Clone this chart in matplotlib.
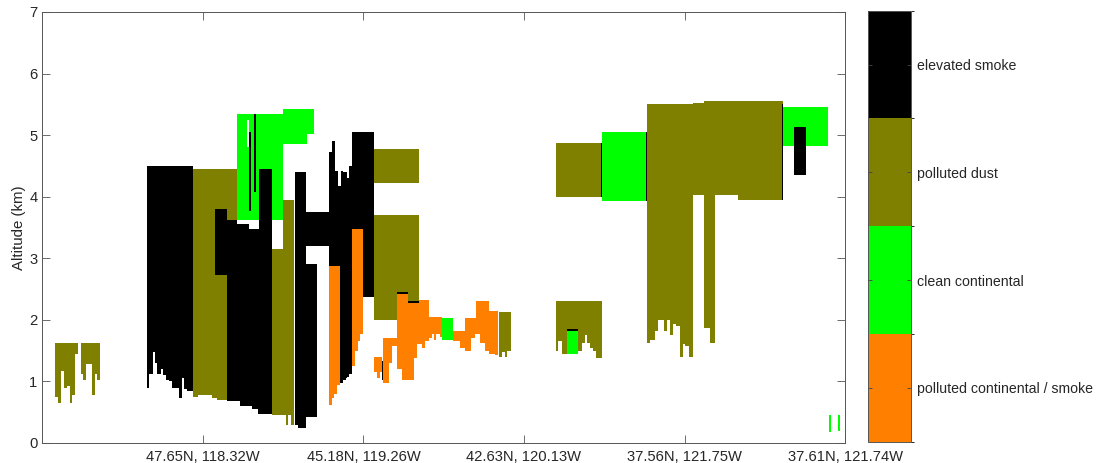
import numpy as np
import matplotlib
matplotlib.use('Agg')
import matplotlib.pyplot as plt
from matplotlib.colors import ListedColormap, BoundaryNorm

plt.rcParams['font.family'] = ['Liberation Sans', 'DejaVu Sans']

# profile index along the track, altitude in km
N_PROFILES = 802
TICK_LABELS = ['47.65N, 118.32W', '45.18N, 119.26W', '42.63N, 120.13W',
               '37.56N, 121.75W', '37.61N, 121.74W']
TYPE_NAMES = ['polluted continental / smoke', 'clean continental',
              'polluted dust', 'elevated smoke']
TYPE_COLORS = ['#ff8000', '#00ff00', '#808000', '#000000']

# layers: (first profile, last profile, base km, top km)
DUST = [
    (13, 16, 0.75, 1.62), (16, 19, 0.65, 1.62), (19, 22, 1.18, 1.62), (22, 25, 0.91, 1.62),
    (25, 28, 0.93, 1.62), (28, 30, 0.65, 1.62), (30, 33, 0.77, 1.62), (33, 36, 1.44, 1.62),
    (39, 41, 1.12, 1.62), (41, 44, 1.03, 1.62), (44, 50, 1.27, 1.62), (50, 53, 0.77, 1.62),
    (53, 55, 1.12, 1.62), (55, 58, 1.03, 1.62),
    (150, 155, 0.75, 4.44), (155, 169, 0.77, 4.44), (169, 174, 0.72, 4.44), (174, 184, 0.70, 4.44),
    (184, 194, 3.62, 4.44),
    (229, 240, 0.45, 3.16), (240, 243, 0.45, 3.96), (243, 245, 0.30, 3.96), (245, 248, 0.45, 3.96),
    (248, 251, 0.29, 3.96),
    (331, 376, 4.23, 4.77), (331, 354, 2.00, 3.71), (354, 365, 2.46, 3.71), (365, 376, 2.31, 3.71),
    (456, 459, 1.41, 2.13), (459, 462, 1.48, 2.13), (462, 464, 1.40, 2.13), (464, 468, 1.51, 2.13),
    (513, 559, 3.99, 4.87),
    (513, 515, 1.50, 2.31), (515, 519, 1.64, 2.31), (519, 524, 1.44, 2.31), (524, 535, 1.86, 2.31),
    (535, 539, 1.51, 2.31), (539, 542, 1.62, 2.31), (542, 544, 1.75, 2.31), (544, 547, 1.62, 2.31),
    (547, 550, 1.56, 2.31), (550, 553, 1.51, 2.31), (553, 559, 1.38, 2.31),
    (604, 607, 1.62, 5.51), (607, 612, 1.68, 5.51), (612, 615, 1.82, 5.51), (615, 621, 1.99, 5.51),
    (621, 624, 1.83, 5.51), (624, 627, 1.99, 5.51), (627, 630, 1.74, 5.51), (630, 633, 1.93, 5.51),
    (633, 637, 1.90, 5.51), (637, 640, 1.39, 5.51), (640, 642, 1.61, 5.51), (642, 646, 1.57, 5.51),
    (646, 650, 1.40, 5.51), (650, 661, 4.02, 5.53), (661, 667, 1.87, 5.56), (667, 672, 1.62, 5.56),
    (672, 695, 4.02, 5.54), (695, 740, 3.96, 5.56),
]
CLEAN = [
    (194, 240, 3.62, 5.34), (240, 264, 4.85, 5.42), (264, 271, 5.03, 5.42),
    (399, 410, 1.67, 2.03), (524, 535, 1.44, 1.83), (559, 604, 3.93, 5.06),
    (740, 785, 4.83, 5.46), (786, 788, 0.18, 0.44), (795, 797, 0.20, 0.44),
]
POLLUTED = [
    (286, 289, 0.62, 2.88), (289, 291, 0.73, 2.88), (291, 294, 0.81, 2.88), (294, 297, 0.94, 2.88),
    (309, 312, 1.24, 3.47), (312, 315, 1.51, 3.47), (315, 317, 1.64, 3.47), (317, 320, 1.78, 3.47),
    (331, 334, 1.16, 1.40), (334, 337, 1.05, 1.40), (337, 339, 1.16, 1.40),
    (340, 346, 0.97, 1.71), (346, 349, 1.30, 1.71), (349, 354, 1.58, 1.71),
    (354, 359, 1.21, 2.43), (359, 365, 1.02, 2.43), (365, 371, 1.02, 2.28), (371, 374, 1.37, 2.28),
    (374, 376, 1.59, 2.28), (376, 379, 1.59, 2.33), (379, 382, 1.54, 2.33), (382, 386, 1.64, 2.33),
    (386, 389, 1.70, 2.05), (389, 391, 1.78, 2.05), (391, 393, 1.67, 2.05), (393, 397, 1.78, 2.05),
    (397, 399, 1.73, 2.05),
    (410, 417, 1.64, 1.82), (417, 422, 1.56, 1.82), (422, 428, 1.50, 2.03), (428, 432, 1.70, 2.03),
    (432, 433, 1.78, 2.03), (433, 437, 1.78, 2.30), (437, 442, 1.62, 2.30), (442, 446, 1.51, 2.30),
    (446, 452, 1.46, 2.16), (452, 455, 1.43, 2.16),
]
SMOKE = [
    (104, 106, 0.90, 4.50), (106, 110, 1.13, 4.50), (110, 112, 1.47, 4.50), (112, 114, 1.30, 4.50),
    (114, 118, 1.13, 4.50), (118, 120, 1.19, 4.50), (120, 123, 1.10, 4.50), (123, 126, 1.02, 4.50),
    (126, 129, 0.99, 4.50), (129, 132, 0.90, 4.50), (132, 136, 0.89, 4.50), (136, 139, 0.72, 4.50),
    (139, 141, 1.06, 4.50), (141, 144, 0.88, 4.50), (144, 150, 0.86, 4.50),
    (172, 184, 2.73, 3.81),
    (184, 194, 0.67, 3.62), (194, 197, 0.67, 3.54), (197, 206, 0.60, 3.54), (206, 209, 0.60, 3.47),
    (209, 215, 0.54, 3.47), (215, 216, 0.47, 3.47), (216, 229, 0.47, 4.46),
    (206, 208, 3.78, 5.05), (211, 213, 4.08, 5.34),
    (252, 255, 0.29, 4.40), (255, 263, 0.24, 4.40), (263, 286, 3.20, 3.74), (263, 274, 0.43, 2.90),
    (286, 289, 2.88, 4.73), (289, 292, 2.88, 4.89), (292, 295, 2.88, 4.43), (295, 297, 2.88, 4.17),
    (297, 298, 0.97, 4.17), (298, 300, 0.97, 4.43), (300, 303, 1.02, 4.40), (303, 304, 1.05, 4.40),
    (304, 306, 1.08, 4.30), (306, 309, 1.13, 4.50),
    (309, 320, 3.47, 5.06), (320, 331, 2.37, 5.06),
    (339, 340, 1.02, 1.32), (354, 365, 2.43, 2.46), (365, 376, 2.28, 2.31),
    (524, 535, 1.83, 1.86), (558, 559, 3.99, 4.87), (603, 604, 3.93, 5.06), (739, 740, 3.96, 5.50),
    (751, 763, 4.34, 5.12),
]
GAPS = [(204, 206, 4.81, 5.24)]

alt_edges = np.linspace(0, 7, 281)
alt_mid = 0.5 * (alt_edges[:-1] + alt_edges[1:])
x_edges = np.arange(N_PROFILES + 1)

grid = np.zeros((len(alt_mid), N_PROFILES))
for code, layers in [(3, DUST), (2, CLEAN), (1, POLLUTED), (4, SMOKE), (0, GAPS)]:
    for x0, x1, base, top in layers:
        rows = (alt_mid >= base) & (alt_mid < top)
        grid[rows, x0:x1] = code
grid = np.ma.masked_equal(grid, 0)

cmap = ListedColormap(TYPE_COLORS)
norm = BoundaryNorm([0.5, 1.5, 2.5, 3.5, 4.5], cmap.N)

fig = plt.figure(figsize=(10.97, 4.63), dpi=100)
ax = fig.add_axes([0.0387, 0.0432, 0.7316, 0.9309])
cax = fig.add_axes([0.7913, 0.0460, 0.0392, 0.9309])

mesh = ax.pcolormesh(x_edges, alt_edges, grid, cmap=cmap, norm=norm,
                     shading='flat', antialiased=False)

edge = '#555555'
ax.set_xlim(0, N_PROFILES)
ax.set_ylim(0, 7)
ax.set_xticks([N_PROFILES * k / 5 for k in range(1, 6)])
ax.set_xticklabels(TICK_LABELS)
ax.set_yticks(range(8))
ax.set_ylabel('Altitude (km)', fontsize=10.8, color='#262626', labelpad=2)
ax.tick_params(direction='in', length=6, width=0.6, color=edge, labelcolor='#262626',
               labelsize=10.6, top=True, right=True)
ax.tick_params(axis='x', pad=5)
for s in ax.spines.values():
    s.set_color(edge)
    s.set_linewidth(0.7)

cb = fig.colorbar(mesh, cax=cax, ticks=[1, 2, 3, 4])
cb.set_ticklabels(TYPE_NAMES)
cax.tick_params(direction='in', length=3, width=0.6, color='#444444', labelcolor='#262626',
                labelsize=10.2, left=True, right=True, pad=4)
cb.outline.set_edgecolor(edge)
cb.outline.set_linewidth(0.7)

fig.savefig('out.png', dpi=100)
